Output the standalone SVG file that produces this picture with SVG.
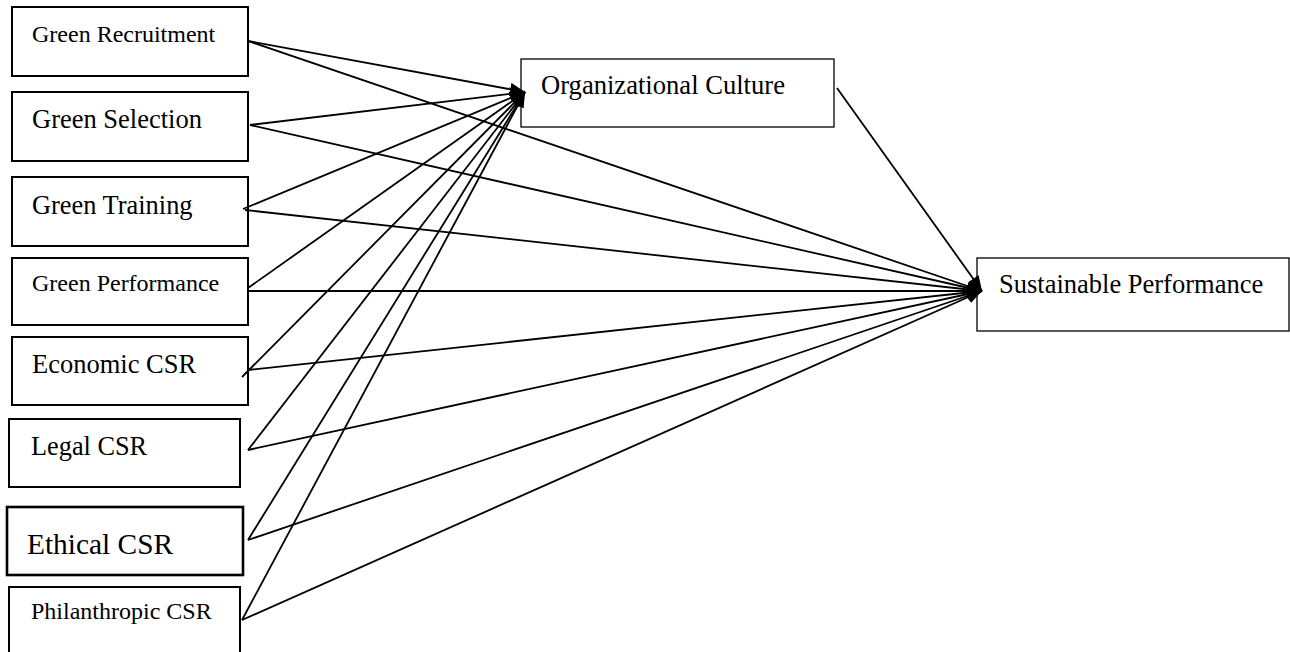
<svg xmlns="http://www.w3.org/2000/svg" width="1290" height="652" viewBox="0 0 1290 652">
<style>
.box{fill:#fff;stroke:#000;stroke-width:2}
.thin{stroke-width:1.3}
.thick{stroke-width:2.6}
.t{font-family:"Liberation Serif","Times New Roman",serif;fill:#000}
.c line{stroke:#000;stroke-width:1.8;marker-end:url(#ah)}
</style>
<defs>
<marker id="ah" markerUnits="userSpaceOnUse" markerWidth="17" markerHeight="14" refX="15" refY="6.5" orient="auto">
<path d="M0,0 L15,6.5 L0,13 z" fill="#000"/>
</marker>
</defs>
<rect width="1290" height="652" fill="#fff"/>
<g id="n-recruitment"><rect class="box" x="12" y="7" width="236" height="69"/><text class="t" x="32" y="42" font-size="24">Green Recruitment</text></g>
<g id="n-selection"><rect class="box" x="12" y="92" width="236" height="69"/><text class="t" x="32" y="128" font-size="26.5">Green Selection</text></g>
<g id="n-training"><rect class="box" x="12" y="177" width="236" height="69"/><text class="t" x="32" y="214" font-size="26.4">Green Training</text></g>
<g id="n-performance"><rect class="box" x="12" y="258" width="236" height="67"/><text class="t" x="32" y="291" font-size="24">Green Performance</text></g>
<g id="n-economic"><rect class="box" x="12" y="337" width="236" height="68"/><text class="t" x="32" y="373" font-size="26.5">Economic CSR</text></g>
<g id="n-legal"><rect class="box" x="9" y="419" width="231" height="68"/><text class="t" x="31" y="455" font-size="26.3">Legal CSR</text></g>
<g id="n-ethical"><rect class="box thick" x="7" y="507" width="236" height="68"/><text class="t" x="27" y="554" font-size="29.4">Ethical CSR</text></g>
<g id="n-philanthropic"><rect class="box" x="9" y="587" width="231" height="80"/><text class="t" x="31" y="619" font-size="24">Philanthropic CSR</text></g>
<g id="n-culture"><rect class="box thin" x="521" y="59" width="313" height="68"/><text class="t" x="541" y="94" font-size="26.6">Organizational Culture</text></g>
<g id="n-sustainable"><rect class="box thin" x="977" y="258" width="312" height="73"/><text class="t" x="999" y="293" font-size="26.5">Sustainable Performance</text></g>
<g id="connectors" class="c">
<line x1="248" y1="41" x2="525" y2="92"/>
<line x1="248" y1="41" x2="982" y2="291"/>
<line x1="250" y1="125" x2="525" y2="92"/>
<line x1="250" y1="125" x2="982" y2="291"/>
<line x1="243" y1="209" x2="525" y2="92"/>
<line x1="245" y1="210" x2="982" y2="291"/>
<line x1="248" y1="288" x2="525" y2="92"/>
<line x1="248" y1="291" x2="982" y2="291"/>
<line x1="242" y1="377" x2="525" y2="92"/>
<line x1="248" y1="370" x2="982" y2="291"/>
<line x1="248" y1="450" x2="525" y2="92"/>
<line x1="248" y1="450" x2="982" y2="291"/>
<line x1="248" y1="540" x2="525" y2="92"/>
<line x1="248" y1="540" x2="982" y2="291"/>
<line x1="242" y1="620" x2="525" y2="92"/>
<line x1="242" y1="620" x2="982" y2="291"/>
<line x1="837" y1="88" x2="982" y2="291"/>
</g>
</svg>
